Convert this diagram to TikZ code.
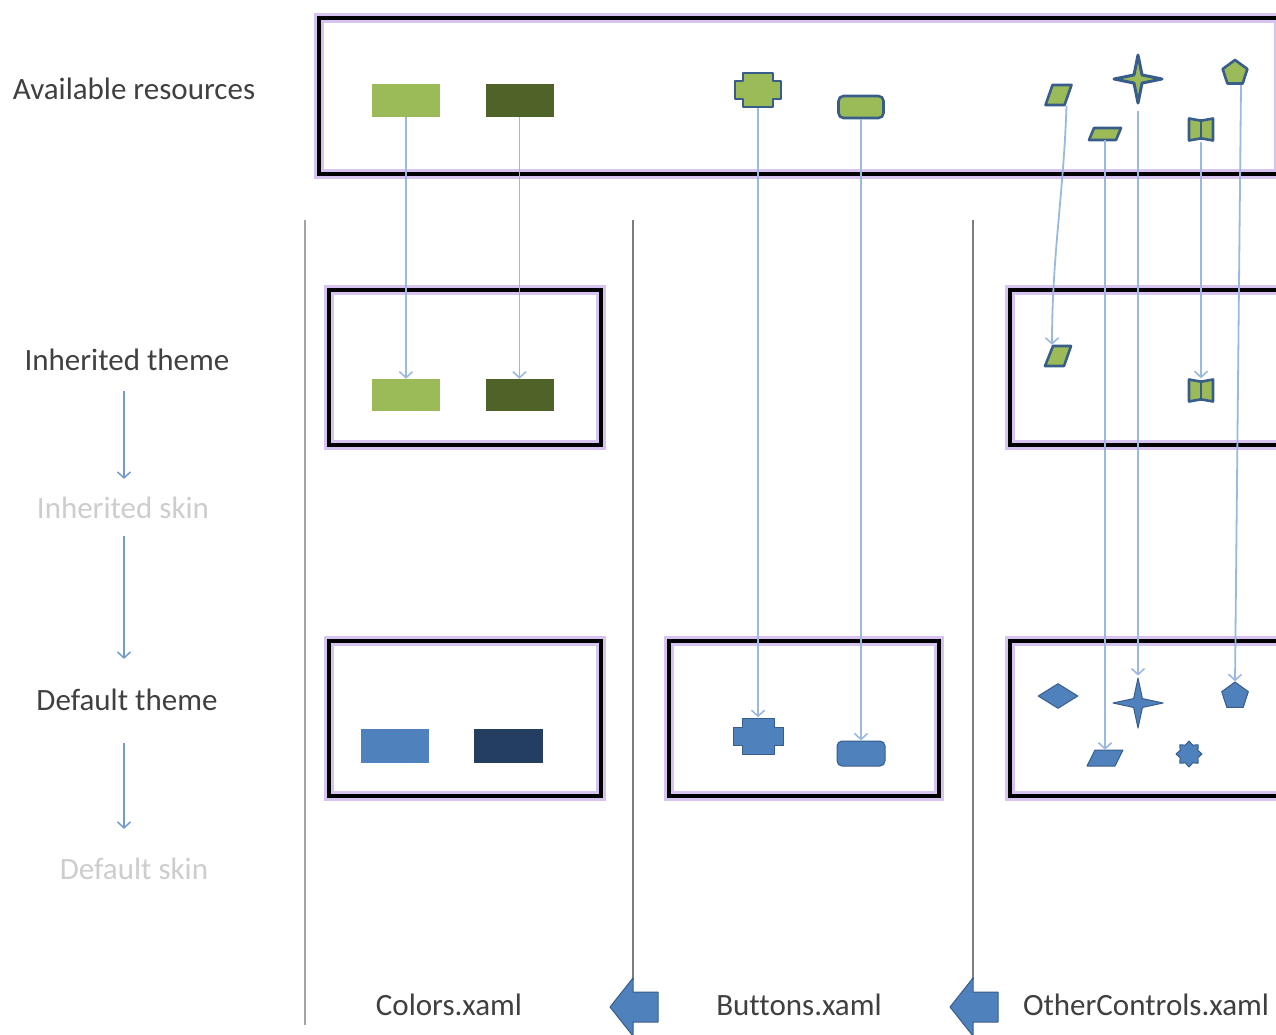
\documentclass[tikz,border=0pt]{standalone}
\usepackage{fontspec}
\setmainfont{Carlito}[Ligatures={NoCommon}]
\usetikzlibrary{shapes.geometric,arrows.meta,calc}
\definecolor{lgreen}{RGB}{155,187,89}
\definecolor{dgreen}{RGB}{79,98,40}
\definecolor{mblue}{RGB}{79,129,189}
\definecolor{navy}{RGB}{36,62,98}
\definecolor{sborder}{RGB}{56,93,138}
\definecolor{connc}{RGB}{155,185,222}
\definecolor{leftc}{RGB}{115,155,208}
\definecolor{glow}{RGB}{215,195,240}
\definecolor{txt}{RGB}{64,64,64}
\definecolor{skin}{RGB}{205,205,205}
\definecolor{sepc}{RGB}{125,125,125}
\begin{document}
\begin{tikzpicture}[x=1pt,y=-1pt,
  frame/.style={draw=black,line width=3.5pt,preaction={draw=glow,line width=10pt}},
  gfill/.style={fill=lgreen,draw=sborder,line width=2.6pt,line join=round},
  bfill/.style={fill=mblue,draw=sborder,line width=1pt,line join=round},
  plainrect/.style={rectangle,inner sep=0pt,draw=none,minimum width=68pt,minimum height=33pt},
  anchorbox/.style={rectangle,inner sep=0pt,draw=none},
  connl/.style={draw=connc,line width=1.8pt,-{Straight Barb[length=6pt,width=13pt,line width=1.6pt]}},
  leftarrow/.style={draw=leftc,line width=1.5pt,-{Straight Barb[length=6pt,width=13pt]}},
  lbl/.style={font=\fontsize{31}{36}\selectfont,text=txt,inner sep=0pt},
  skinlbl/.style={lbl,text=skin},
  seprule/.style={draw=sepc,line width=1.6pt}
]
\useasboundingbox[fill=white] (0,0) rectangle (1276,1034);

% frames
\draw[frame] (319,18) rectangle (1279,174);
\draw[frame] (329,290) rectangle (601,445);
\draw[frame] (1010,290) rectangle (1290,445);
\draw[frame] (329,641) rectangle (601,796);
\draw[frame] (669,641) rectangle (939,796);
\draw[frame] (1010,641) rectangle (1290,796);

% separators
\draw[seprule,draw=sepc!70,line width=2.4pt] (305,220) -- (305,1025);
\draw[seprule] (633,220) -- (633,980);
\draw[seprule] (973,220) -- (973,980);

% block arrows
\draw[bfill] (610,1007) -- (633,978) -- (633,992) -- (658,992) -- (658,1022) -- (633,1022) -- (633,1036) -- cycle;
\draw[bfill] (950,1007) -- (973,978) -- (973,992) -- (998,992) -- (998,1022) -- (973,1022) -- (973,1036) -- cycle;

% labels
\node[lbl] (a0) at (134,89) {Available resources};
\node[lbl] (t1) at (127,360) {Inherited theme};
\node[skinlbl] (s1) at (123,508) {Inherited skin};
\node[lbl] (t2) at (127,700) {Default theme};
\node[skinlbl] (s2) at (134,869) {Default skin};
\node[lbl] (c1) at (449,1005) {Colors.xaml};
\node[lbl] (c2) at (799,1005) {Buttons.xaml};
\node[lbl] (c3) at (1146,1005) {OtherControls.xaml};

\draw[leftarrow,shorten <=20pt,shorten >=18pt] ([xshift=-3pt]t1.south) -- ([xshift=1pt]s1.north);
\draw[leftarrow,shorten <=17pt,shorten >=30pt] ([xshift=1pt]s1.south) -- ([xshift=-3pt]t2.north);
\draw[leftarrow,shorten <=32pt,shorten >=29pt] ([xshift=-3pt]t2.south) -- ([xshift=-10pt]s2.north);

% colour rectangles
\node[plainrect,fill=lgreen] (r1) at (406,100.5) {};
\node[plainrect,fill=dgreen] (r2) at (519.5,100.5) {};
\node[plainrect,fill=lgreen,minimum height=32pt] (r1b) at (406,395) {};
\node[plainrect,fill=dgreen,minimum height=32pt] (r2b) at (519.5,395) {};
\node[plainrect,fill=mblue,minimum height=34pt] (r1c) at (395,746) {};
\node[plainrect,fill=navy,minimum width=69pt,minimum height=34pt] (r2c) at (508.5,746) {};

% crosses
\node[anchorbox,minimum width=49pt,minimum height=36pt] (cr1) at (758,90) {};
\draw[gfill,shift={(cr1)}] (-15,-17) -- (15,-17) -- (15,-9) -- (23,-9) -- (23,9) -- (15,9) -- (15,17) -- (-15,17) -- (-15,9) -- (-23,9) -- (-23,-9) -- (-15,-9) -- cycle;
\node[anchorbox,minimum width=50pt,minimum height=37pt] (cr2) at (758,736) {};
\draw[bfill,shift={(cr2)}] (-16,-18) -- (16,-18) -- (16,-9) -- (25,-9) -- (25,9) -- (16,9) -- (16,18) -- (-16,18) -- (-16,9) -- (-25,9) -- (-25,-9) -- (-16,-9) -- cycle;

% rounded rectangles
\node[gfill,rectangle,rounded corners=5pt,minimum width=45pt,minimum height=22pt,inner sep=0pt] (rr1) at (861,107) {};
\node[bfill,rectangle,rounded corners=5pt,minimum width=48pt,minimum height=25pt,inner sep=0pt] (rr2) at (861,753.5) {};

% parallelograms
\node[anchorbox,minimum width=27pt,minimum height=21pt] (pa1) at (1058.5,95) {};
\draw[gfill,shift={(pa1)}] (-6,-10) -- (13,-10) -- (6,10) -- (-13,10) -- cycle;
\node[anchorbox,minimum width=27pt,minimum height=22pt] (pa2) at (1058,356) {};
\draw[gfill,shift={(pa2)}] (-5,-10) -- (13,-10) -- (6,10) -- (-13,10) -- cycle;
\node[anchorbox,minimum width=34pt,minimum height=12pt] (pf1) at (1105,134) {};
\draw[gfill,shift={(pf1)}] (-11,-6) -- (16,-6) -- (11,6) -- (-16,6) -- cycle;
\node[anchorbox,minimum width=36pt,minimum height=16pt] (pf2) at (1105,758) {};
\draw[bfill,shift={(pf2)}] (-10,-8) -- (18,-8) -- (10,8) -- (-18,8) -- cycle;

% stars
\node[gfill,star,star points=4,star point ratio=4.2,minimum size=48pt,inner sep=0pt,line width=3pt] (st1) at (1138,79) {};
\node[bfill,star,star points=4,star point ratio=4,minimum size=50pt,inner sep=0pt] (st2) at (1138,703) {};

% wave shapes
\node[anchorbox,minimum width=26pt,minimum height=24pt] (wv1) at (1201,129.5) {};
\draw[gfill,shift={(wv1)}] (-12,-11) -- (-1,-9) -- (1,-9) -- (12,-11) -- (12,11) -- (1,9) -- (-1,9) -- (-12,11) -- cycle;
\draw[draw=sborder,line width=1.5pt,shift={(wv1)}] (0,-9) -- (0,9);
\node[anchorbox,minimum width=26pt,minimum height=24pt] (wv2) at (1201,390.5) {};
\draw[gfill,shift={(wv2)}] (-12,-11) -- (-1,-9) -- (1,-9) -- (12,-11) -- (12,11) -- (1,9) -- (-1,9) -- (-12,11) -- cycle;
\draw[draw=sborder,line width=1.5pt,shift={(wv2)}] (0,-9) -- (0,9);

% pentagons
\node[gfill,regular polygon,regular polygon sides=5,minimum size=26pt,inner sep=0pt] (pt1) at (1235,73) {};
\node[bfill,regular polygon,regular polygon sides=5,minimum size=28pt,inner sep=0pt] (pt2) at (1235,696) {};

% diamond and seal
\node[bfill,diamond,minimum width=40pt,minimum height=25pt,inner sep=0pt] (dm) at (1058,696) {};
\node[bfill,star,star points=8,star point ratio=1.35,minimum size=26pt,inner sep=0pt] (sl) at (1189,754) {};

% connectors
\draw[connl] (r1.south) -- (r1b.north);
\draw[connl] (r2.south) -- (r2b.north);
\draw[connl] (cr1.south) -- (cr2.north);
\draw[connl] (rr1.south) -- (rr2.north);
\draw[connl] ([xshift=8pt]pa1.south) .. controls +(-3,90) and +(0,-90) .. ([xshift=-6pt]pa2.north);
\draw[connl] (pf1.south) -- (pf2.north);
\draw[connl] (st1.south) -- (st2.north);
\draw[connl] (wv1.south) -- (wv2.north);
\draw[connl] ([xshift=6pt]pt1.south) -- (pt2.north);
\end{tikzpicture}
\end{document}
